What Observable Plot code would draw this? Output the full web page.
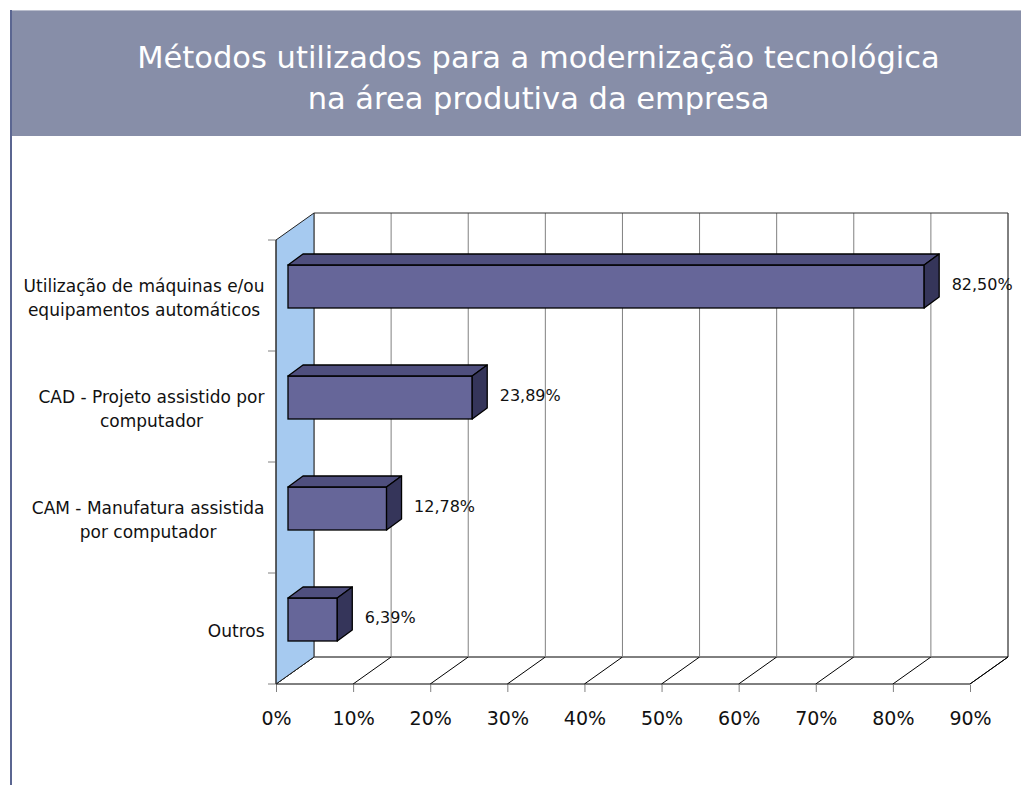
<!DOCTYPE html>
<html><head><meta charset="utf-8">
<script src="https://cdn.jsdelivr.net/npm/d3@7"></script>
<script src="https://cdn.jsdelivr.net/npm/@observablehq/plot@0.6"></script>
<style>
body{margin:0;background:#fff;width:1021px;height:785px;overflow:hidden;position:relative;font-family:"DejaVu Sans",sans-serif}
#vline{position:absolute;left:10px;top:10px;width:2px;height:775px;background:#5b6691}
#hline{position:absolute;left:10px;top:10px;width:1011px;height:1px;background:#b9bdcc}
#title{position:absolute;left:12px;top:11px;width:965px;height:125px;padding-left:44px;padding-top:0;box-sizing:content-box;background:#878ea8;color:#fff;text-align:center;font-family:"DejaVu Sans",sans-serif;font-size:30.5px;line-height:41px;white-space:nowrap}
#title div:first-child{margin-top:26px}
#chart{position:absolute;left:0;top:136px}
</style></head>
<body>
<div id="hline"></div>
<div id="title"><div>Métodos utilizados para a modernização tecnológica</div><div>na área produtiva da empresa</div></div>
<div id="vline"></div>
<div id="chart"></div>
<script>
const categories = ["Utilização de máquinas e/ou equipamentos automáticos", "CAD - Projeto assistido por computador", "CAM - Manufatura assistida por computador", "Outros"];
const categoryLines = [["Utilização de máquinas e/ou", "equipamentos automáticos"], ["CAD - Projeto assistido por", "computador"], ["CAM - Manufatura assistida", "por computador"], ["Outros"]];
const values = [82.50, 23.89, 12.78, 6.39];
const valueLabels = ["82,50%", "23,89%", "12,78%", "6,39%"];
const xDomain = [0, 90];

const data = categories.map((c, i) => ({cat: c, value: values[i], label: valueLabels[i]}));

const FONT = '"DejaVu Sans", sans-serif';
const FS_CAT = 17, FS_VAL = 16, FS_TICK = 19;
const DX = 38, DY = -27;          // depth of the 3D box
const BF = [12, -9], BB = [27, -20]; // front / back depth of bars
const INSET = 34;

const ctx = document.createElement("canvas").getContext("2d");
ctx.font = `${FS_CAT}px ${FONT}`;
const blockW = categoryLines.map(ls => Math.max(...ls.map(l => ctx.measureText(l).width)));

const pts = a => a.map(p => p.join(",")).join(" ");

function walls(index, {x, y}) {
  const g = d3.create("svg:g");
  const x0 = x(xDomain[0]), x1 = x(xDomain[1]);
  const yTop = y(categories[0]);
  const yBot = y(categories[categories.length - 1]) + y.bandwidth();
  const ticks = x.ticks(10);
  // floor
  g.append("polygon").attr("points", pts([[x0, yBot], [x1, yBot], [x1 + DX, yBot + DY], [x0 + DX, yBot + DY]]))
    .attr("fill", "#fff").attr("stroke", "#000");
  for (const t of ticks) {
    g.append("line").attr("x1", x(t)).attr("y1", yBot).attr("x2", x(t) + DX).attr("y2", yBot + DY).attr("stroke", "#000");
  }
  // back wall gridlines
  for (const t of ticks) {
    const last = t === ticks[ticks.length - 1];
    g.append("line").attr("x1", x(t) + DX).attr("y1", yTop + DY).attr("x2", x(t) + DX).attr("y2", yBot + DY)
      .attr("stroke", last ? "#000" : "#808080");
  }
  g.append("line").attr("x1", x0 + DX).attr("y1", yTop + DY).attr("x2", x1 + DX).attr("y2", yTop + DY).attr("stroke", "#333");
  // left wall
  g.append("polygon").attr("points", pts([[x0, yTop], [x0 + DX, yTop + DY], [x0 + DX, yBot + DY], [x0, yBot]]))
    .attr("fill", "#a6caf0").attr("stroke", "#222");
  // y ticks at band edges
  const edges = categories.map(c => y(c)).concat([yBot]);
  for (const e of edges) {
    g.append("line").attr("x1", x0 - 8).attr("x2", x0).attr("y1", e).attr("y2", e).attr("stroke", "#808080");
  }
  g.append("line").attr("x1", x0).attr("x2", x0).attr("y1", yTop).attr("y2", yBot).attr("stroke", "#333");
  return g.node();
}

function barFaces(index, {x, y}) {
  const g = d3.create("svg:g");
  const x0 = x(xDomain[0]);
  for (const d of data) {
    const xe = x(d.value);
    const yt = y(d.cat) + INSET, yb = y(d.cat) + y.bandwidth() - INSET;
    g.append("polygon").attr("points", pts([[x0 + BF[0], yt + BF[1]], [xe + BF[0], yt + BF[1]], [xe + BB[0], yt + BB[1]], [x0 + BB[0], yt + BB[1]]]))
      .attr("fill", "#4f4f7e").attr("stroke", "#000").attr("stroke-width", 1.3).attr("stroke-linejoin", "round");
    g.append("polygon").attr("points", pts([[xe + BF[0], yt + BF[1]], [xe + BB[0], yt + BB[1]], [xe + BB[0], yb + BB[1]], [xe + BF[0], yb + BF[1]]]))
      .attr("fill", "#35355a").attr("stroke", "#000").attr("stroke-width", 1.3).attr("stroke-linejoin", "round");
  }
  return g.node();
}

const chart = Plot.plot({
  width: 1021,
  height: 649,
  marginLeft: 276,
  marginRight: 51,
  marginTop: 103,
  marginBottom: 100,
  style: {fontFamily: FONT, fontSize: FS_TICK + "px", color: "#111", background: "transparent"},
  x: {domain: xDomain, ticks: 10, tickFormat: d => d + "%", tickSize: 7, tickPadding: 19, label: null},
  y: {domain: categories, padding: 0, axis: null},
  marks: [
    walls,
    Plot.barX(data, {x: "value", y: "cat", fill: "#666699", stroke: "#000", strokeWidth: 1.3, insetTop: INSET, insetBottom: INSET, dx: BF[0], dy: BF[1]}),
    barFaces,
    Plot.text(data, {x: "value", y: "cat", text: "label", dx: 39, dy: -11, textAnchor: "start", fontSize: FS_VAL, fill: "#111"}),
    ...categoryLines.map((lines, i) => Plot.text([categories[i]], {
      y: d => d, frameAnchor: "left", text: () => lines.join("\n"), textAnchor: "middle",
      dx: -(12 + blockW[i] / 2), lineHeight: 1.47, fontSize: FS_CAT, fill: "#111"
    }))
  ]
});
d3.select(chart).selectAll('g[aria-label="x-axis tick"] path, .tick line').attr("stroke", "#808080");
document.getElementById("chart").append(chart);
</script>
</body></html>
